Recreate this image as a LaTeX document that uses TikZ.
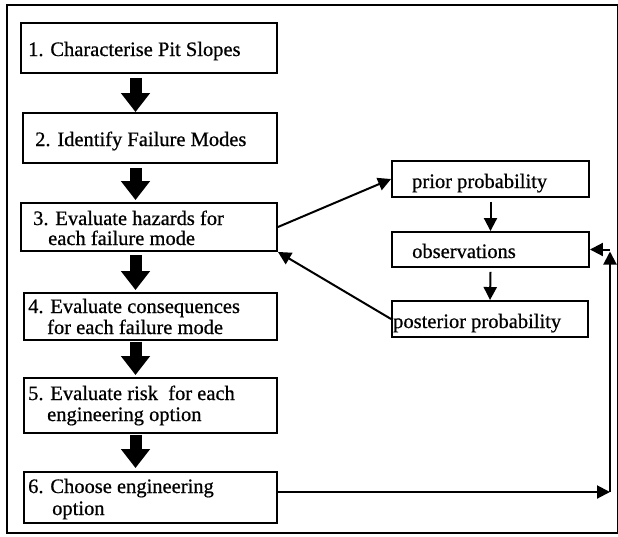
\documentclass[tikz,border=0pt]{standalone}
\usepackage{fontspec}
\setmainfont[FakeBold=0.7,AutoFakeBold=0.7]{Liberation Serif}
\newfontfamily\scanfont[FakeBold=0.7]{Liberation Serif}
\usetikzlibrary{arrows.meta,calc}
\begin{document}
\begin{tikzpicture}[x=1pt,y=-1pt,
  box/.style={draw,line width=1.9pt,inner sep=0pt,rectangle},
  txt/.style={anchor=base west,inner sep=0pt,font=\scanfont\fontsize{20.5}{21}\selectfont},
  fat/.style={line width=12pt,-{Triangle[width=28pt,length=19pt]}},
  thin/.style={line width=2pt,-{Triangle[width=13pt,length=13pt]}}]
\useasboundingbox (0,0) rectangle (618,536);
\draw[line width=2pt] (7,5) rectangle (618,533);
% left column boxes
\node[box,minimum width=256pt,minimum height=50pt] (b1) at (149,48) {};
\node[box,minimum width=254pt,minimum height=50pt] (b2) at (150,138) {};
\node[box,minimum width=256pt,minimum height=48pt] (b3) at (149,227) {};
\node[box,minimum width=253pt,minimum height=47pt] (b4) at (150.5,316.5) {};
\node[box,minimum width=253pt,minimum height=55pt] (b5) at (150.5,405.5) {};
\node[box,minimum width=253pt,minimum height=51pt] (b6) at (150.5,497.5) {};
% right column boxes
\node[box,minimum width=197pt,minimum height=36pt] (pr) at (490.5,179) {};
\node[box,minimum width=197pt,minimum height=35pt] (ob) at (490.5,249.5) {};
\node[box,minimum width=196pt,minimum height=36pt] (po) at (490,319) {};
% texts
\node[txt] (t1) at (28,56) {1. Characterise Pit Slopes};
\node[txt] (t2) at (35,146) {2. Identify Failure Modes};
\node[txt] (t3a) at (33,225) {3. Evaluate hazards for};
\node[txt] (t3b) at (48,245) {each failure mode};
\node[txt] (t4a) at (28,313) {4. Evaluate consequences};
\node[txt] (t4b) at (47,334) {for each failure mode};
\node[txt] (t5a) at (28,400) {5. Evaluate risk\ \ for each};
\node[txt] (t5b) at (47,421) {engineering option};
\node[txt] (t6a) at (28,493) {6. Choose engineering};
\node[txt] (t6b) at (52,515) {option};
\node[txt] (tpr) at (412,188) {prior probability};
\node[txt] (tob) at (412,258) {observations};
\node[txt] (tpo) at (393,328) {posterior probability};
% fat arrows
\coordinate (ax) at (135.5,0);
\draw[fat] ($(b1.south -| ax)+(0,4)$) -- (b2.north -| ax);
\draw[fat] ($(b2.south -| ax)+(0,4)$) -- ($(b3.north -| ax)+(0,-2)$);
\draw[fat] ($(b3.south -| ax)+(0,3)$) -- ($(b4.north -| ax)+(0,-2)$);
\draw[fat] ($(b4.south -| ax)+(0,1)$) -- ($(b5.north -| ax)+(0,-2)$);
\draw[fat] ($(b5.south -| ax)+(0,1)$) -- ($(b6.north -| ax)+(0,-3)$);
% right side arrows
\draw[thin] ($(pr.south)+(0,4)$) -- (ob.north);
\draw[thin] ($(ob.south)+(0,4)$) -- (po.north);
\draw[thin] (b3.east) -- (pr.west);
\draw[thin] (po.west) -- (b3.south east);
\coordinate (c1) at (610,492);
\coordinate (c2) at (610,249.5);
\draw[thin] (b6.east |- c1) -- (c1);
\draw[thin] (c1) -- ($(c2)+(0,2)$);
\draw[thin] (c2) -- (ob.east);
\end{tikzpicture}
\end{document}
